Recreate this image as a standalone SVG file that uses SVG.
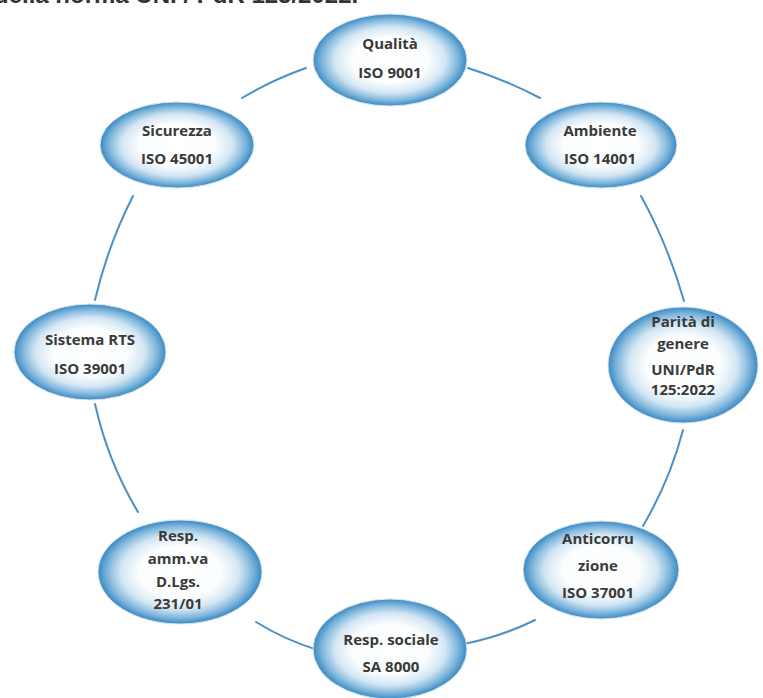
<svg xmlns="http://www.w3.org/2000/svg" width="763" height="698" viewBox="0 0 763 698">
<defs>
<radialGradient id="g" cx="50%" cy="50%" r="50%">
<stop offset="0" stop-color="#ffffff"/>
<stop offset="0.5" stop-color="#fbfdfe"/>
<stop offset="0.72" stop-color="#d3e6f3"/>
<stop offset="0.88" stop-color="#80b7dd"/>
<stop offset="1" stop-color="#3a89c2"/>
</radialGradient>
<style>
.n{fill:url(#g);stroke:#d6e6f0;stroke-width:1}
.t{font-family:"Open Sans","Liberation Sans",sans-serif;font-weight:700;font-size:15px;fill:#3a3a3a;text-anchor:middle}
.c{fill:none;stroke:#4a90c6;stroke-width:2;stroke-linecap:round}
.h{font-family:"Liberation Sans",sans-serif;font-weight:700;font-size:24px;fill:#333}
</style>
</defs>
<rect width="763" height="698" fill="#ffffff"/>
<text class="h" x="-6" y="3">della norma UNI / PdR 125/2022.</text>
<g id="connectors">
<path class="c" d="M306,68 Q272,80 242,98"/>
<path class="c" d="M468,68 Q506,80 540,98"/>
<path class="c" d="M133,196 Q108,245 95,300"/>
<path class="c" d="M641,196 Q668,245 684,301"/>
<path class="c" d="M95,404 Q108,462 138,512"/>
<path class="c" d="M683,430 Q670,480 643,526"/>
<path class="c" d="M256,622 Q285,640 318,650"/>
<path class="c" d="M464,644 Q503,636 535,620"/>
</g>
<g id="qualita">
<ellipse class="n" cx="390" cy="60" rx="77" ry="46"/>
<text class="t" x="390" y="49">Qualità</text>
<text class="t" x="390" y="78">ISO 9001</text>
</g>
<g id="sicurezza">
<ellipse class="n" cx="177" cy="145" rx="77" ry="43"/>
<text class="t" x="177" y="136">Sicurezza</text>
<text class="t" x="177" y="164">ISO 45001</text>
</g>
<g id="ambiente">
<ellipse class="n" cx="601" cy="145" rx="76" ry="43"/>
<text class="t" x="600" y="136">Ambiente</text>
<text class="t" x="600" y="164">ISO 14001</text>
</g>
<g id="sistema-rts">
<ellipse class="n" cx="90" cy="352" rx="76" ry="48"/>
<text class="t" x="90" y="345">Sistema RTS</text>
<text class="t" x="90" y="374">ISO 39001</text>
</g>
<g id="parita">
<ellipse class="n" cx="683" cy="365" rx="75" ry="58"/>
<text class="t" x="683" y="327">Parità di</text>
<text class="t" x="683" y="349">genere</text>
<text class="t" x="683" y="375">UNI/PdR</text>
<text class="t" x="683" y="395">125:2022</text>
</g>
<g id="resp-amm">
<ellipse class="n" cx="180" cy="572" rx="82" ry="52"/>
<text class="t" x="178" y="541">Resp.</text>
<text class="t" x="178" y="564">amm.va</text>
<text class="t" x="178" y="587">D.Lgs.</text>
<text class="t" x="178" y="609">231/01</text>
</g>
<g id="resp-sociale">
<ellipse class="n" cx="390" cy="649" rx="77" ry="50"/>
<text class="t" x="391" y="645">Resp. sociale</text>
<text class="t" x="391" y="672">SA 8000</text>
</g>
<g id="anticorruzione">
<ellipse class="n" cx="601" cy="570" rx="78" ry="49"/>
<text class="t" x="598" y="544">Anticorru</text>
<text class="t" x="598" y="571">zione</text>
<text class="t" x="598" y="598">ISO 37001</text>
</g>
</svg>
